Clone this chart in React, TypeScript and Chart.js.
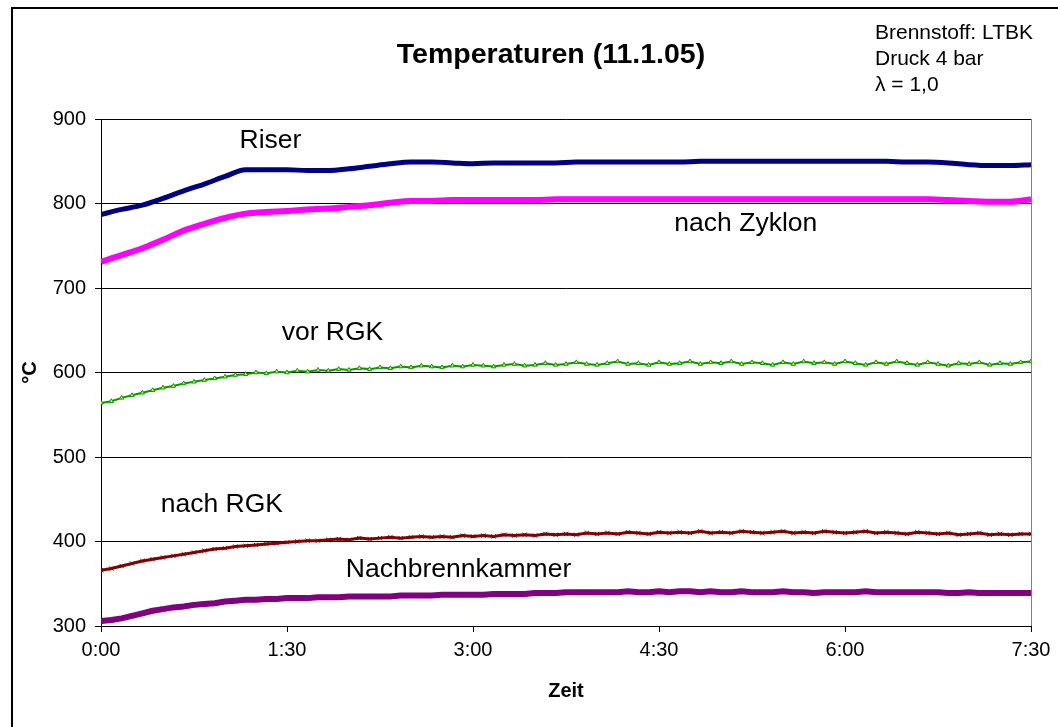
import React, { useEffect, useRef } from "react";
import { Chart, registerables } from "chart.js";

Chart.register(...registerables);

// time axis in minutes
const timesCoarse = [0, 10, 20, 30, 40, 50, 60, 70, 80, 90, 100, 110, 120, 130, 140, 150, 160, 170, 180, 190, 200, 210, 220, 230, 240, 250, 260, 270, 280, 290, 300, 310, 320, 330, 340, 350, 360, 370, 380, 390, 400, 410, 420, 430, 440, 450];
const timesFine = [0, 5, 10, 15, 20, 25, 30, 35, 40, 45, 50, 55, 60, 65, 70, 75, 80, 85, 90, 95, 100, 105, 110, 115, 120, 125, 130, 135, 140, 145, 150, 155, 160, 165, 170, 175, 180, 185, 190, 195, 200, 205, 210, 215, 220, 225, 230, 235, 240, 245, 250, 255, 260, 265, 270, 275, 280, 285, 290, 295, 300, 305, 310, 315, 320, 325, 330, 335, 340, 345, 350, 355, 360, 365, 370, 375, 380, 385, 390, 395, 400, 405, 410, 415, 420, 425, 430, 435, 440, 445, 450];
const xTickValues = [0, 90, 180, 270, 360, 450];
const xTickLabels = ["0:00", "1:30", "3:00", "4:30", "6:00", "7:30"];
const yTickValues = [300, 400, 500, 600, 700, 800, 900];

const riser = [787, 793, 798, 806, 815, 823, 832, 840, 840, 840, 839, 839, 841, 844, 847, 849, 849, 848, 847, 848, 848, 848, 848, 849, 849, 849, 849, 849, 849, 850, 850, 850, 850, 850, 850, 850, 850, 850, 850, 849, 849, 848, 846, 845, 845, 846];
const nachZyklon = [731, 739, 747, 757, 768, 776, 783, 788, 790, 791, 793, 794, 796, 798, 801, 803, 803, 804, 804, 804, 804, 804, 805, 805, 805, 805, 805, 805, 805, 805, 805, 805, 805, 805, 805, 805, 805, 805, 805, 805, 805, 804, 803, 802, 802, 805];
const vorRGK = [564, 566, 570, 573, 576, 579, 582, 584, 587, 589, 591, 593, 595, 597, 598, 600, 599, 601, 600, 602, 601, 603, 602, 604, 603, 605, 604, 606, 605, 607, 606, 608, 607, 606, 608, 607, 609, 608, 607, 609, 610, 608, 609, 611, 609, 610, 612, 610, 609, 611, 613, 610, 611, 609, 612, 610, 611, 613, 610, 612, 611, 613, 610, 612, 611, 609, 612, 610, 613, 611, 612, 610, 613, 611, 609, 612, 610, 613, 611, 609, 612, 610, 608, 611, 610, 612, 609, 611, 610, 612, 613];
const nachRGK = [366, 368, 371, 374, 377, 379, 381, 383, 385, 387, 389, 391, 392, 394, 395, 396, 397, 398, 399, 400, 401, 401, 402, 403, 402, 404, 403, 404, 405, 404, 405, 406, 405, 406, 405, 407, 406, 407, 406, 408, 407, 408, 407, 409, 408, 409, 408, 410, 409, 410, 409, 411, 410, 409, 411, 410, 411, 410, 412, 410, 411, 410, 412, 411, 410, 411, 412, 410, 411, 410, 412, 411, 410, 411, 412, 410, 411, 410, 409, 411, 410, 409, 410, 408, 409, 410, 408, 409, 408, 409, 409];
const nachbrennkammer = [306, 307, 309, 312, 315, 318, 320, 322, 323, 325, 326, 327, 329, 330, 331, 331, 332, 332, 333, 333, 333, 334, 334, 334, 335, 335, 335, 335, 335, 336, 336, 336, 336, 337, 337, 337, 337, 337, 338, 338, 338, 338, 339, 339, 339, 340, 340, 340, 340, 340, 340, 341, 340, 340, 341, 340, 341, 341, 340, 341, 340, 340, 341, 340, 340, 340, 341, 340, 340, 339, 340, 340, 340, 340, 341, 340, 340, 340, 340, 340, 340, 340, 339, 339, 340, 339, 339, 339, 339, 339, 339];

// series labels placed in data coordinates [minutes, °C]
const seriesLabels = [
  { text: "Riser", t: 82, v: 874 },
  { text: "nach Zyklon", t: 312, v: 776 },
  { text: "vor RGK", t: 112, v: 647 },
  { text: "nach RGK", t: 58.5, v: 443 },
  { text: "Nachbrennkammer", t: 173, v: 367 },
];
const titleText = "Temperaturen (11.1.05)";
const infoLines = ["Brennstoff: LTBK", "Druck 4 bar", "λ = 1,0"];
const xTitle = "Zeit";
const yTitle = "°C";

const FONT = "'Liberation Sans', Arial, Helvetica, sans-serif";

function toPoints(xs: number[], ys: number[]) {
  return ys.map((y, i) => ({ x: xs[i], y }));
}

const decorPlugin = {
  id: "decor",
  afterDraw(chart: any) {
    const ctx = chart.ctx as CanvasRenderingContext2D;
    const { chartArea } = chart;
    const xs = chart.scales.x;
    const ys = chart.scales.y;
    ctx.save();
    // outer frame
    ctx.strokeStyle = "#000";
    ctx.lineWidth = 2;
    ctx.strokeRect(12, 8, 2000, 2000);
    // right plot border
    ctx.strokeStyle = "#808080";
    ctx.lineWidth = 1;
    ctx.beginPath();
    ctx.moveTo(Math.round(chartArea.right) + 0.5, chartArea.top);
    ctx.lineTo(Math.round(chartArea.right) + 0.5, chartArea.bottom);
    ctx.stroke();

    ctx.fillStyle = "#000";
    // title
    ctx.font = `bold 28.5px ${FONT}`;
    ctx.textAlign = "center";
    ctx.textBaseline = "middle";
    ctx.fillText(titleText, 551, 55);
    // info text
    ctx.font = `21px ${FONT}`;
    ctx.textAlign = "left";
    const infoY = [33, 59, 85];
    infoLines.forEach((l, i) => ctx.fillText(l, 875, infoY[i]));
    // series labels
    ctx.font = `26.5px ${FONT}`;
    ctx.textAlign = "center";
    seriesLabels.forEach((s) => {
      ctx.fillText(s.text, xs.getPixelForValue(s.t), ys.getPixelForValue(s.v));
    });
    // axis titles
    ctx.font = `bold 20px ${FONT}`;
    ctx.fillText(xTitle, (chartArea.left + chartArea.right) / 2, 691);
    ctx.translate(30, (chartArea.top + chartArea.bottom) / 2);
    ctx.rotate(-Math.PI / 2);
    ctx.fillText(yTitle, 0, 0);
    ctx.restore();
  },
};

export default function App() {
  const ref = useRef<HTMLCanvasElement | null>(null);
  useEffect(() => {
    if (!ref.current) return;
    const chart = new Chart(ref.current, {
      type: "line",
      data: {
        datasets: [
          {
            label: "Riser",
            data: toPoints(timesCoarse, riser),
            borderColor: "#000080",
            borderWidth: 5,
            pointRadius: 0,
            cubicInterpolationMode: "monotone",
          },
          {
            label: "nach Zyklon",
            data: toPoints(timesCoarse, nachZyklon),
            borderColor: "#FF00FF",
            borderWidth: 6,
            pointRadius: 0,
            cubicInterpolationMode: "monotone",
          },
          {
            label: "vor RGK",
            data: toPoints(timesFine, vorRGK),
            borderColor: "#009900",
            borderWidth: 2,
            pointStyle: "triangle",
            pointRadius: 2.5,
            pointBackgroundColor: "#FFFF00",
            pointBorderColor: "#009900",
            pointBorderWidth: 1,
          },
          {
            label: "nach RGK",
            data: toPoints(timesFine, nachRGK),
            borderColor: "#800000",
            borderWidth: 3,
            pointStyle: "crossRot",
            pointRadius: 3,
            pointBorderColor: "#800000",
            pointBorderWidth: 1,
          },
          {
            label: "Nachbrennkammer",
            data: toPoints(timesFine, nachbrennkammer),
            borderColor: "#800080",
            borderWidth: 6,
            pointStyle: "crossRot",
            pointRadius: 3.5,
            pointBorderColor: "#800080",
            pointBorderWidth: 1,
          },
        ],
      },
      options: {
        animation: false,
        responsive: false,
        devicePixelRatio: 1,
        layout: { padding: { left: 0, right: 27, top: 119, bottom: 0 } },
        plugins: {
          legend: { display: false },
          title: { display: false },
          tooltip: { enabled: false },
        },
        scales: {
          x: {
            type: "linear",
            min: 0,
            max: 450,
            afterFit: (s: any) => {
              s.height = 101;
            },
            afterBuildTicks: (s: any) => {
              s.ticks = xTickValues.map((v) => ({ value: v }));
            },
            ticks: {
              autoSkip: false,
              maxRotation: 0,
              padding: 6,
              color: "#000",
              font: { family: FONT, size: 20 },
              callback: (v: any) => {
                const i = xTickValues.indexOf(Number(v));
                return i >= 0 ? xTickLabels[i] : "";
              },
            },
            grid: {
              drawOnChartArea: false,
              drawTicks: true,
              tickLength: 6,
              color: "#000",
            },
            border: { display: true, color: "#000", width: 1 },
          },
          y: {
            type: "linear",
            min: 300,
            max: 900,
            afterFit: (s: any) => {
              s.width = 101;
            },
            afterBuildTicks: (s: any) => {
              s.ticks = yTickValues.map((v) => ({ value: v }));
            },
            ticks: {
              padding: 9,
              color: "#000",
              font: { family: FONT, size: 20 },
            },
            grid: {
              drawTicks: true,
              tickLength: 6,
              color: "#000",
              lineWidth: 1,
            },
            border: { display: true, color: "#000", width: 1 },
          },
        },
      },
      plugins: [decorPlugin],
    });
    return () => chart.destroy();
  }, []);
  return (
    <div style={{ position: "fixed", left: 0, top: 0, width: 1058, height: 727, background: "#fff" }}>
      <canvas ref={ref} width={1058} height={727} style={{ display: "block" }} />
    </div>
  );
}
